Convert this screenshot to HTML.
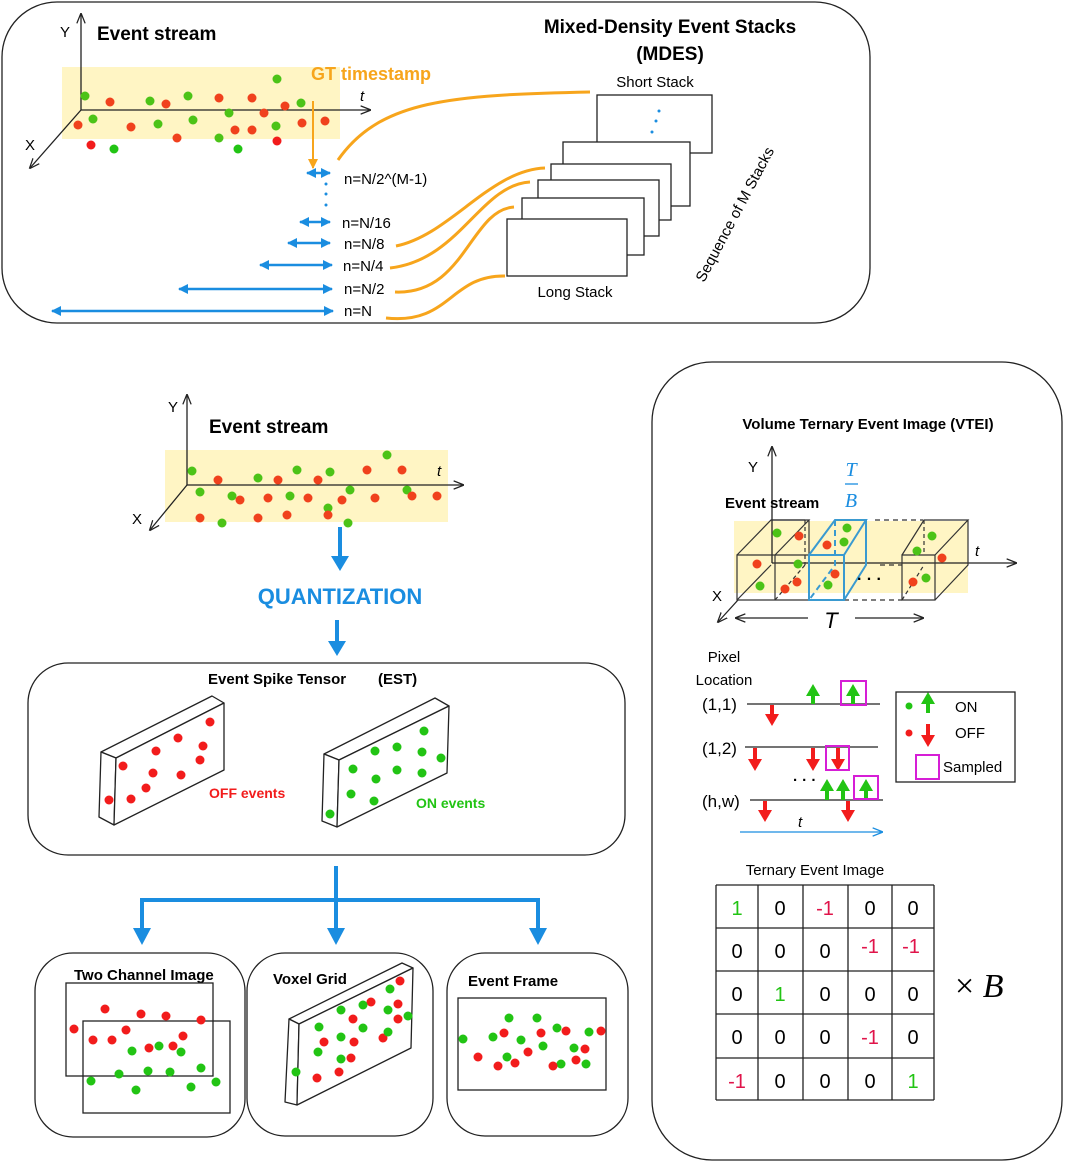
<!DOCTYPE html>
<html><head><meta charset="utf-8"><style>
html,body{margin:0;padding:0;background:#fff}
svg{display:block;font-family:"Liberation Sans",sans-serif}
.g{fill:#4cc317}.r{fill:#f0411d}.gg{fill:#22c414}.rr{fill:#f21c1c}
.k{fill:none;stroke:#222;stroke-width:1.3}
.o{fill:none;stroke:#f7a51c;stroke-width:3}
.b{stroke:#1a8de0;stroke-width:2.5;fill:none}
</style></head><body>
<svg width="1065" height="1164" viewBox="0 0 1065 1164" xmlns="http://www.w3.org/2000/svg">
<defs>
<marker id="ab" viewBox="0 0 10 10" refX="9" refY="5" markerWidth="4" markerHeight="4" orient="auto-start-reverse"><path d="M0,0L10,5L0,10z" fill="#1a8de0"/></marker>
<marker id="ak" viewBox="0 0 10 10" refX="9" refY="5" markerWidth="8" markerHeight="8" orient="auto-start-reverse"><path d="M0,1L10,5L0,9" fill="none" stroke="#222" stroke-width="1.2"/></marker>
<marker id="ao" viewBox="0 0 10 10" refX="9" refY="5" markerWidth="5" markerHeight="5" orient="auto"><path d="M0,0L10,5L0,10z" fill="#f7a51c"/></marker>
<marker id="abb" viewBox="0 0 10 10" refX="5" refY="5" markerWidth="4" markerHeight="4" orient="auto"><path d="M0,0L10,5L0,10z" fill="#1a8de0"/></marker>
<marker id="al" viewBox="0 0 10 10" refX="9" refY="5" markerWidth="8" markerHeight="8" orient="auto"><path d="M0,1L10,5L0,9" fill="none" stroke="#1a8de0" stroke-width="1.2"/></marker>
</defs>

<!-- TOP BOX -->
<rect x="2" y="2" width="868" height="321" rx="55" class="k"/>
<rect x="62" y="67" width="278" height="72" fill="#fff5c4"/>
<line x1="81" y1="110" x2="81" y2="14" class="k" marker-end="url(#ak)"/>
<line x1="81" y1="110" x2="370" y2="110" class="k" marker-end="url(#ak)"/>
<line x1="81" y1="110" x2="30" y2="168" class="k" marker-end="url(#ak)"/>
<text x="60" y="37" font-size="15">Y</text>
<text x="25" y="150" font-size="15">X</text>
<text x="360" y="101" font-size="15" font-style="italic">t</text>
<text x="97" y="40" font-size="19" font-weight="bold">Event stream</text>
<g>
<circle cx="85" cy="96" r="4.5" class="g"/><circle cx="93" cy="119" r="4.5" class="g"/><circle cx="150" cy="101" r="4.5" class="g"/><circle cx="158" cy="124" r="4.5" class="g"/><circle cx="188" cy="96" r="4.5" class="g"/><circle cx="193" cy="120" r="4.5" class="g"/><circle cx="229" cy="113" r="4.5" class="g"/><circle cx="276" cy="126" r="4.5" class="g"/><circle cx="277" cy="79" r="4.5" class="g"/><circle cx="301" cy="103" r="4.5" class="g"/><circle cx="219" cy="138" r="4.5" class="g"/><circle cx="238" cy="149" r="4.5" class="gg"/><circle cx="114" cy="149" r="4.5" class="gg"/>
<circle cx="110" cy="102" r="4.5" class="r"/><circle cx="78" cy="125" r="4.5" class="r"/><circle cx="131" cy="127" r="4.5" class="r"/><circle cx="166" cy="104" r="4.5" class="r"/><circle cx="177" cy="138" r="4.5" class="r"/><circle cx="219" cy="98" r="4.5" class="r"/><circle cx="252" cy="98" r="4.5" class="r"/><circle cx="235" cy="130" r="4.5" class="r"/><circle cx="252" cy="130" r="4.5" class="r"/><circle cx="264" cy="113" r="4.5" class="r"/><circle cx="285" cy="106" r="4.5" class="r"/><circle cx="302" cy="123" r="4.5" class="r"/><circle cx="325" cy="121" r="4.5" class="r"/><circle cx="91" cy="145" r="4.5" class="rr"/><circle cx="277" cy="141" r="4.5" class="rr"/>
</g>
<text x="311" y="80" font-size="18" font-weight="bold" fill="#f7a51c">GT timestamp</text>
<line x1="313" y1="101" x2="313" y2="168" stroke="#f7a51c" stroke-width="2" marker-end="url(#ao)"/>
<g class="b">
<line x1="307" y1="173" x2="330" y2="173" marker-start="url(#ab)" marker-end="url(#ab)"/>
<line x1="300" y1="222" x2="330" y2="222" marker-start="url(#ab)" marker-end="url(#ab)"/>
<line x1="288" y1="243" x2="330" y2="243" marker-start="url(#ab)" marker-end="url(#ab)"/>
<line x1="260" y1="265" x2="332" y2="265" marker-start="url(#ab)" marker-end="url(#ab)"/>
<line x1="179" y1="289" x2="332" y2="289" marker-start="url(#ab)" marker-end="url(#ab)"/>
<line x1="52" y1="311" x2="333" y2="311" marker-start="url(#ab)" marker-end="url(#ab)"/>
</g>
<g fill="#1a8de0"><circle cx="326" cy="184" r="1.5"/><circle cx="326" cy="194" r="1.5"/><circle cx="326" cy="205" r="1.5"/></g>
<g font-size="15">
<text x="344" y="184">n=N/2^(M-1)</text>
<text x="342" y="228">n=N/16</text>
<text x="344" y="249">n=N/8</text>
<text x="343" y="271">n=N/4</text>
<text x="344" y="294">n=N/2</text>
<text x="344" y="316">n=N</text>
</g>
<g class="o">
<path d="M338,160 C380,100 450,95 590,92"/>
<path d="M396,246 C450,235 490,170 545,168"/>
<path d="M390,268 C460,260 480,185 530,182"/>
<path d="M395,292 C465,295 470,210 514,207"/>
<path d="M386,318 C450,325 450,275 505,276"/>
</g>
<g fill="#fff" stroke="#222" stroke-width="1.3">
<rect x="597" y="95" width="115" height="58"/>
<rect x="563" y="142" width="127" height="64"/>
<rect x="551" y="164" width="120" height="56"/>
<rect x="538" y="180" width="121" height="56"/>
<rect x="522" y="198" width="122" height="57"/>
<rect x="507" y="219" width="120" height="57"/>
</g>
<g fill="#1a8de0"><circle cx="659" cy="111" r="1.5"/><circle cx="656" cy="121" r="1.5"/><circle cx="652" cy="132" r="1.5"/></g>
<text x="670" y="33" font-size="19" font-weight="bold" text-anchor="middle">Mixed-Density Event Stacks</text>
<text x="670" y="60" font-size="19" font-weight="bold" text-anchor="middle">(MDES)</text>
<text x="655" y="87" font-size="15" text-anchor="middle">Short Stack</text>
<text x="575" y="297" font-size="15" text-anchor="middle">Long Stack</text>
<text x="0" y="0" font-size="15" transform="translate(704,283) rotate(-62)">Sequence of M Stacks</text>

<!-- BOTTOM LEFT EVENT STREAM -->
<rect x="165" y="450" width="283" height="72" fill="#fff5c4"/>
<line x1="187" y1="485" x2="187" y2="395" class="k" marker-end="url(#ak)"/>
<line x1="187" y1="485" x2="463" y2="485" class="k" marker-end="url(#ak)"/>
<line x1="187" y1="485" x2="150" y2="530" class="k" marker-end="url(#ak)"/>
<text x="168" y="412" font-size="15">Y</text>
<text x="132" y="524" font-size="15">X</text>
<text x="437" y="476" font-size="15" font-style="italic">t</text>
<text x="209" y="433" font-size="19" font-weight="bold">Event stream</text>
<g>
<circle cx="192" cy="471" r="4.5" class="g"/><circle cx="258" cy="478" r="4.5" class="g"/><circle cx="297" cy="470" r="4.5" class="g"/><circle cx="330" cy="472" r="4.5" class="g"/><circle cx="387" cy="455" r="4.5" class="g"/><circle cx="350" cy="490" r="4.5" class="g"/><circle cx="407" cy="490" r="4.5" class="g"/><circle cx="200" cy="492" r="4.5" class="g"/><circle cx="232" cy="496" r="4.5" class="g"/><circle cx="290" cy="496" r="4.5" class="g"/><circle cx="328" cy="508" r="4.5" class="g"/><circle cx="222" cy="523" r="4.5" class="g"/><circle cx="348" cy="523" r="4.5" class="g"/>
<circle cx="218" cy="480" r="4.5" class="r"/><circle cx="278" cy="480" r="4.5" class="r"/><circle cx="318" cy="480" r="4.5" class="r"/><circle cx="367" cy="470" r="4.5" class="r"/><circle cx="402" cy="470" r="4.5" class="r"/><circle cx="240" cy="500" r="4.5" class="r"/><circle cx="268" cy="498" r="4.5" class="r"/><circle cx="308" cy="498" r="4.5" class="r"/><circle cx="375" cy="498" r="4.5" class="r"/><circle cx="412" cy="496" r="4.5" class="r"/><circle cx="437" cy="496" r="4.5" class="r"/><circle cx="200" cy="518" r="4.5" class="r"/><circle cx="258" cy="518" r="4.5" class="r"/><circle cx="287" cy="515" r="4.5" class="r"/><circle cx="328" cy="515" r="4.5" class="r"/><circle cx="342" cy="500" r="4.5" class="r"/>
</g>
<line x1="340" y1="527" x2="340" y2="558" stroke="#1a8de0" stroke-width="4"/>
<path d="M331,556 L349,556 L340,571 z" fill="#1a8de0"/>
<text x="340" y="604" font-size="22" font-weight="bold" fill="#1a8de0" text-anchor="middle">QUANTIZATION</text>
<line x1="337" y1="620" x2="337" y2="643" stroke="#1a8de0" stroke-width="4"/>
<path d="M328,641 L346,641 L337,656 z" fill="#1a8de0"/>

<!-- EST -->
<rect x="28" y="663" width="597" height="192" rx="40" class="k"/>
<text x="208" y="684" font-size="15" font-weight="bold">Event Spike Tensor</text>
<text x="378" y="684" font-size="15" font-weight="bold">(EST)</text>
<g fill="#fff" stroke="#222" stroke-width="1.3" stroke-linejoin="round">
<path d="M101,752 L212,696 L224,703 L116,758 z"/><path d="M101,752 L116,758 L114,825 L99,817 z"/><path d="M116,758 L224,703 L224,770 L114,825 z"/>
<path d="M324,754 L435,698 L449,706 L339,760 z"/><path d="M324,754 L339,760 L337,827 L322,821 z"/><path d="M339,760 L449,706 L447,773 L337,827 z"/>
</g>
<g class="rr">
<circle cx="210" cy="722" r="4.5"/><circle cx="178" cy="738" r="4.5"/><circle cx="203" cy="746" r="4.5"/><circle cx="156" cy="751" r="4.5"/><circle cx="200" cy="760" r="4.5"/><circle cx="123" cy="766" r="4.5"/><circle cx="153" cy="773" r="4.5"/><circle cx="181" cy="775" r="4.5"/><circle cx="146" cy="788" r="4.5"/><circle cx="131" cy="799" r="4.5"/><circle cx="109" cy="800" r="4.5"/>
</g>
<g class="gg">
<circle cx="424" cy="731" r="4.5"/><circle cx="375" cy="751" r="4.5"/><circle cx="397" cy="747" r="4.5"/><circle cx="422" cy="752" r="4.5"/><circle cx="441" cy="758" r="4.5"/><circle cx="353" cy="769" r="4.5"/><circle cx="376" cy="779" r="4.5"/><circle cx="397" cy="770" r="4.5"/><circle cx="422" cy="773" r="4.5"/><circle cx="351" cy="794" r="4.5"/><circle cx="374" cy="801" r="4.5"/><circle cx="330" cy="814" r="4.5"/>
</g>
<text x="209" y="798" font-size="14" font-weight="bold" fill="#f21c1c">OFF events</text>
<text x="416" y="808" font-size="14" font-weight="bold" fill="#22c414">ON events</text>

<!-- connectors -->
<g stroke="#1a8de0" stroke-width="4" fill="none">
<line x1="336" y1="866" x2="336" y2="932"/>
<path d="M142,932 L142,900 L538,900 L538,932"/>
</g>
<g fill="#1a8de0">
<path d="M133,928 L151,928 L142,945 z"/><path d="M327,928 L345,928 L336,945 z"/><path d="M529,928 L547,928 L538,945 z"/>
</g>

<!-- Two channel -->
<rect x="35" y="953" width="210" height="184" rx="38" class="k"/>
<text x="74" y="980" font-size="15" font-weight="bold">Two Channel Image</text>
<rect x="66" y="983" width="147" height="93" class="k"/>
<rect x="83" y="1021" width="147" height="92" class="k"/>
<g class="rr">
<circle cx="105" cy="1009" r="4.5"/><circle cx="141" cy="1014" r="4.5"/><circle cx="166" cy="1016" r="4.5"/><circle cx="201" cy="1020" r="4.5"/><circle cx="74" cy="1029" r="4.5"/><circle cx="126" cy="1030" r="4.5"/><circle cx="93" cy="1040" r="4.5"/><circle cx="112" cy="1040" r="4.5"/><circle cx="183" cy="1036" r="4.5"/><circle cx="149" cy="1048" r="4.5"/><circle cx="173" cy="1046" r="4.5"/>
</g>
<g class="gg">
<circle cx="132" cy="1051" r="4.5"/><circle cx="159" cy="1046" r="4.5"/><circle cx="181" cy="1052" r="4.5"/><circle cx="91" cy="1081" r="4.5"/><circle cx="119" cy="1074" r="4.5"/><circle cx="148" cy="1071" r="4.5"/><circle cx="170" cy="1072" r="4.5"/><circle cx="201" cy="1068" r="4.5"/><circle cx="216" cy="1082" r="4.5"/><circle cx="136" cy="1090" r="4.5"/><circle cx="191" cy="1087" r="4.5"/>
</g>

<!-- Voxel -->
<rect x="247" y="953" width="186" height="183" rx="38" class="k"/>
<g fill="#fff" stroke="#222" stroke-width="1.3" stroke-linejoin="round">
<path d="M289,1019 L402,963 L413,968 L299,1024 z"/><path d="M289,1019 L299,1024 L297,1105 L285,1102 z"/><path d="M299,1024 L413,968 L411,1048 L297,1105 z"/>
</g>
<text x="273" y="984" font-size="15" font-weight="bold">Voxel Grid</text>
<g class="rr">
<circle cx="400" cy="981" r="4.5"/><circle cx="371" cy="1002" r="4.5"/><circle cx="398" cy="1004" r="4.5"/><circle cx="353" cy="1019" r="4.5"/><circle cx="398" cy="1019" r="4.5"/><circle cx="324" cy="1042" r="4.5"/><circle cx="354" cy="1042" r="4.5"/><circle cx="383" cy="1038" r="4.5"/><circle cx="351" cy="1058" r="4.5"/><circle cx="317" cy="1078" r="4.5"/><circle cx="339" cy="1072" r="4.5"/>
</g>
<g class="gg">
<circle cx="390" cy="989" r="4.5"/><circle cx="363" cy="1005" r="4.5"/><circle cx="341" cy="1010" r="4.5"/><circle cx="388" cy="1010" r="4.5"/><circle cx="408" cy="1016" r="4.5"/><circle cx="319" cy="1027" r="4.5"/><circle cx="363" cy="1028" r="4.5"/><circle cx="388" cy="1032" r="4.5"/><circle cx="341" cy="1037" r="4.5"/><circle cx="318" cy="1052" r="4.5"/><circle cx="341" cy="1059" r="4.5"/><circle cx="296" cy="1072" r="4.5"/>
</g>

<!-- Event frame -->
<rect x="447" y="953" width="181" height="183" rx="38" class="k"/>
<text x="468" y="986" font-size="15" font-weight="bold">Event Frame</text>
<rect x="458" y="998" width="148" height="92" class="k"/>
<g class="gg">
<circle cx="463" cy="1039" r="4.5"/><circle cx="493" cy="1037" r="4.5"/><circle cx="509" cy="1018" r="4.5"/><circle cx="537" cy="1018" r="4.5"/><circle cx="521" cy="1040" r="4.5"/><circle cx="557" cy="1028" r="4.5"/><circle cx="543" cy="1046" r="4.5"/><circle cx="589" cy="1032" r="4.5"/><circle cx="574" cy="1048" r="4.5"/><circle cx="507" cy="1057" r="4.5"/><circle cx="561" cy="1064" r="4.5"/><circle cx="586" cy="1064" r="4.5"/>
</g>
<g class="rr">
<circle cx="504" cy="1033" r="4.5"/><circle cx="541" cy="1033" r="4.5"/><circle cx="566" cy="1031" r="4.5"/><circle cx="601" cy="1031" r="4.5"/><circle cx="478" cy="1057" r="4.5"/><circle cx="528" cy="1052" r="4.5"/><circle cx="585" cy="1049" r="4.5"/><circle cx="498" cy="1066" r="4.5"/><circle cx="515" cy="1063" r="4.5"/><circle cx="553" cy="1066" r="4.5"/><circle cx="576" cy="1060" r="4.5"/>
</g>

<!-- VTEI -->
<rect x="652" y="362" width="410" height="798" rx="60" class="k"/>
<text x="868" y="429" font-size="15" font-weight="bold" text-anchor="middle">Volume Ternary Event Image (VTEI)</text>
<rect x="734" y="521" width="234" height="72" fill="#fff5c4"/>
<line x1="772" y1="563" x2="772" y2="447" class="k" marker-end="url(#ak)"/>
<line x1="772" y1="563" x2="1016" y2="563" class="k" marker-end="url(#ak)"/>
<line x1="738" y1="600" x2="718" y2="622" class="k" marker-end="url(#ak)"/>
<text x="748" y="472" font-size="15">Y</text>
<text x="712" y="601" font-size="15">X</text>
<text x="975" y="556" font-size="15" font-style="italic">t</text>
<text x="725" y="508" font-size="15" font-weight="bold">Event stream</text>
<text x="851" y="476" font-size="20" font-style="italic" fill="#1a8de0" font-family="Liberation Serif,serif" text-anchor="middle">T</text>
<line x1="845" y1="484" x2="858" y2="484" stroke="#1a8de0" stroke-width="1.3"/>
<text x="851" y="507" font-size="20" font-style="italic" fill="#1a8de0" font-family="Liberation Serif,serif" text-anchor="middle">B</text>
<g fill="none" stroke="#333" stroke-width="1.2">
<!-- cube 1 & 2 -->
<path d="M737,555 L737,600 L775,600 L775,555 z M775,555 L809,555 L809,600 L775,600"/>
<path d="M737,555 L771,520 L809,520 L775,555 M809,520 L809,555"/>
<path d="M771,520 L805,520"/>
<path d="M737,600 L771,565"/>
<path d="M805,520 L805,565" stroke-dasharray="4,3"/>
<path d="M775,600 L805,565" stroke-dasharray="4,3"/>
<!-- dashed middle -->
<path d="M875,520 L923,520 M844,600 L902,600 M880,565 L902,565" stroke-dasharray="5,4"/>
<!-- cube last -->
<path d="M902,555 L935,555 L935,600 L902,600 z M902,555 L924,520 L968,520 L935,555 M968,520 L968,565 L935,600"/>
<path d="M924,520 L924,555 M902,600 L924,565" stroke-dasharray="4,3"/>
</g>
<g fill="none" stroke="#3a9ad0" stroke-width="2">
<path d="M809,555 L844,555 L844,600 L809,600 z M809,555 L835,520 L866,520 L844,555 M866,520 L866,565 L844,600"/>
<path d="M835,520 L835,565 L809,600" stroke-dasharray="6,4"/>
</g>
<g>
<circle cx="777" cy="533" r="4.5" class="g"/><circle cx="847" cy="528" r="4.5" class="g"/><circle cx="844" cy="542" r="4.5" class="g"/><circle cx="798" cy="564" r="4.5" class="g"/><circle cx="760" cy="586" r="4.5" class="g"/><circle cx="828" cy="585" r="4.5" class="g"/><circle cx="932" cy="536" r="4.5" class="g"/><circle cx="917" cy="551" r="4.5" class="g"/><circle cx="926" cy="578" r="4.5" class="g"/>
<circle cx="799" cy="536" r="4.5" class="r"/><circle cx="827" cy="545" r="4.5" class="r"/><circle cx="757" cy="564" r="4.5" class="r"/><circle cx="835" cy="574" r="4.5" class="r"/><circle cx="797" cy="582" r="4.5" class="r"/><circle cx="785" cy="589" r="4.5" class="r"/><circle cx="942" cy="558" r="4.5" class="r"/><circle cx="913" cy="582" r="4.5" class="r"/>
</g>
<text x="857" y="584" font-size="16" font-weight="bold">· · ·</text>
<text x="831" y="628" font-size="22" font-style="italic" text-anchor="middle">T</text>
<line x1="808" y1="618" x2="736" y2="618" class="k" marker-end="url(#ak)"/>
<line x1="855" y1="618" x2="923" y2="618" class="k" marker-end="url(#ak)"/>

<text x="724" y="662" font-size="15" text-anchor="middle">Pixel</text>
<text x="724" y="685" font-size="15" text-anchor="middle">Location</text>
<text x="702" y="710" font-size="17">(1,1)</text>
<text x="702" y="754" font-size="17">(1,2)</text>
<text x="702" y="807" font-size="17">(h,w)</text>
<g stroke="#222" stroke-width="1.3"><line x1="747" y1="704" x2="880" y2="704"/><line x1="745" y1="747" x2="878" y2="747"/><line x1="750" y1="800" x2="883" y2="800"/></g>
<text x="793" y="785" font-size="15" font-weight="bold">· · ·</text>
<line x1="740" y1="832" x2="882" y2="832" stroke="#1a8de0" stroke-width="1.3" marker-end="url(#al)"/>
<text x="798" y="827" font-size="15" font-style="italic">t</text>
<!-- arrow glyph helpers -->
<g fill="#22c414">
<path d="M813,684 L820,696 L815,696 L815,704 L811,704 L811,696 L806,696 z"/>
<path d="M853,684 L860,696 L855,696 L855,704 L851,704 L851,696 L846,696 z"/>
<path d="M827,779 L834,791 L829,791 L829,800 L825,800 L825,791 L820,791 z"/>
<path d="M843,779 L850,791 L845,791 L845,800 L841,800 L841,791 L836,791 z"/>
<path d="M866,779 L873,791 L868,791 L868,800 L864,800 L864,791 L859,791 z"/>
<path d="M928,692 L935,704 L930,704 L930,713 L926,713 L926,704 L921,704 z"/>
</g>
<g fill="#f21c1c">
<path d="M772,726 L779,714 L774,714 L774,705 L770,705 L770,714 L765,714 z"/>
<path d="M755,771 L762,759 L757,759 L757,748 L753,748 L753,759 L748,759 z"/>
<path d="M813,771 L820,759 L815,759 L815,748 L811,748 L811,759 L806,759 z"/>
<path d="M838,771 L845,759 L840,759 L840,748 L836,748 L836,759 L831,759 z"/>
<path d="M765,822 L772,810 L767,810 L767,801 L763,801 L763,810 L758,810 z"/>
<path d="M848,822 L855,810 L850,810 L850,801 L846,801 L846,810 L841,810 z"/>
<path d="M928,747 L935,735 L930,735 L930,724 L926,724 L926,735 L921,735 z"/>
</g>
<g fill="none" stroke="#d61ed6" stroke-width="2">
<rect x="841" y="681" width="25" height="24"/>
<rect x="826" y="746" width="23" height="24"/>
<rect x="854" y="776" width="24" height="23"/>
<rect x="916" y="755" width="23" height="24"/>
</g>
<rect x="896" y="692" width="119" height="90" class="k"/>
<circle cx="909" cy="706" r="3.5" class="gg"/>
<circle cx="909" cy="733" r="3.5" class="rr"/>
<text x="955" y="712" font-size="15">ON</text>
<text x="955" y="738" font-size="15">OFF</text>
<text x="943" y="772" font-size="15">Sampled</text>

<text x="815" y="875" font-size="15" text-anchor="middle">Ternary Event Image</text>
<g stroke="#222" stroke-width="1.3">
<line x1="716" y1="885" x2="716" y2="1100"/><line x1="758" y1="885" x2="758" y2="1100"/><line x1="803" y1="885" x2="803" y2="1100"/><line x1="848" y1="885" x2="848" y2="1100"/><line x1="892" y1="885" x2="892" y2="1100"/><line x1="934" y1="885" x2="934" y2="1100"/>
<line x1="716" y1="885" x2="934" y2="885"/><line x1="716" y1="928" x2="934" y2="928"/><line x1="716" y1="971" x2="934" y2="971"/><line x1="716" y1="1014" x2="934" y2="1014"/><line x1="716" y1="1058" x2="934" y2="1058"/><line x1="716" y1="1100" x2="934" y2="1100"/>
</g>
<g font-size="20" text-anchor="middle">
<text x="737" y="915" fill="#22c414">1</text><text x="780" y="915">0</text><text x="825" y="915" fill="#e0144a">-1</text><text x="870" y="915">0</text><text x="913" y="915">0</text>
<text x="737" y="958">0</text><text x="780" y="958">0</text><text x="825" y="958">0</text><text x="870" y="953" fill="#e0144a">-1</text><text x="911" y="953" fill="#e0144a">-1</text>
<text x="737" y="1001">0</text><text x="780" y="1001" fill="#22c414">1</text><text x="825" y="1001">0</text><text x="870" y="1001">0</text><text x="913" y="1001">0</text>
<text x="737" y="1044">0</text><text x="780" y="1044">0</text><text x="825" y="1044">0</text><text x="870" y="1044" fill="#e0144a">-1</text><text x="913" y="1044">0</text>
<text x="737" y="1088" fill="#e0144a">-1</text><text x="780" y="1088">0</text><text x="825" y="1088">0</text><text x="870" y="1088">0</text><text x="913" y="1088" fill="#22c414">1</text>
</g>
<text x="955" y="997" font-size="34" font-family="Liberation Serif,serif">× <tspan font-style="italic">B</tspan></text>
</svg>
</body></html>
